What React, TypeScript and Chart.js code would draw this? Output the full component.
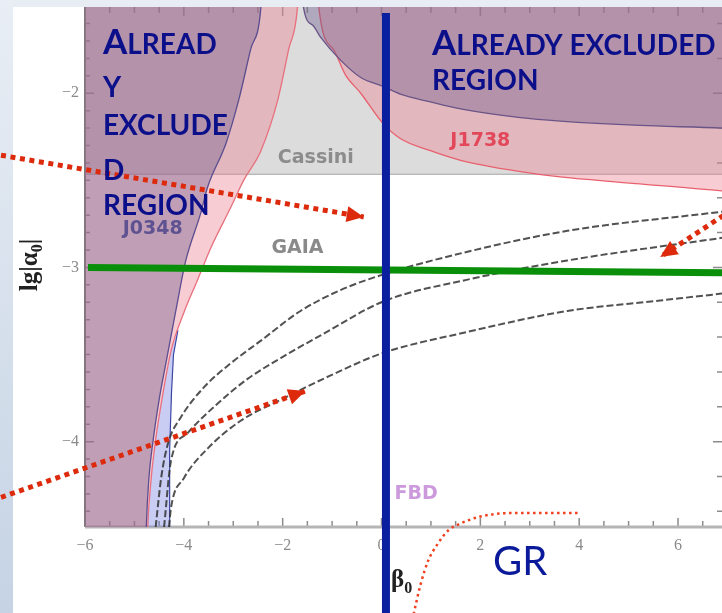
import React, { useEffect, useRef } from "react";
import { Chart, registerables } from "chart.js";

Chart.register(...registerables);

type P = [number, number];

// ---- axis ranges & ticks ----
const X_MIN = -6;
const X_MAX = 6.89;
const Y_MIN = -4.49;
const Y_MAX = -1.505;
const xTicks = [-6, -4, -2, 0, 2, 4, 6];
const yTicks = [-4, -3, -2];

// ---- constraint curves (beta0, lg|alpha0|) ----
const cassiniLimit = -2.465;
const cassiniLine: P[] = [[-7, cassiniLimit], [8, cassiniLimit]];

const j0348Left: P[] = [
  [-7, -4.8], [-4.79, -4.8], [-4.76, -4.49], [-4.71, -4.22], [-4.62, -3.99], [-4.5, -3.76],
  [-4.35, -3.53], [-4.17, -3.26], [-3.96, -2.96], [-3.66, -2.69], [-3.52, -2.54],
  [-3.15, -2.29], [-2.89, -2.04], [-2.65, -1.75], [-2.44, -1.506], [-2.4, -1.3],
];
const j1738Left: P[] = [
  [-7, -4.8], [-4.76, -4.8], [-4.73, -4.49], [-4.67, -4.24], [-4.57, -3.99], [-4.42, -3.72],
  [-4.26, -3.48], [-4.0, -3.26], [-3.72, -3.07], [-3.45, -2.885], [-3.05, -2.655],
  [-2.79, -2.5], [-2.44, -2.33], [-2.1, -2.04], [-1.88, -1.75], [-1.7, -1.506], [-1.66, -1.3],
];
const blueBoundary: P[] = [
  [-4.3, -4.6], [-4.295, -4.49], [-4.28, -4.05], [-4.25, -3.72], [-4.21, -3.5], [-4.12, -3.36],
];
const blueSliver: P[] = [
  [-4.3, -4.6], [-4.295, -4.49], [-4.28, -4.05], [-4.25, -3.72], [-4.21, -3.5], [-4.12, -3.36],
  [-4.26, -3.48], [-4.42, -3.72], [-4.57, -3.99], [-4.67, -4.24], [-4.73, -4.49], [-4.74, -4.6],
];
const j0348Right: P[] = [
  [-1.62, -1.3], [-1.58, -1.506], [-1.39, -1.61], [-1.23, -1.68], [-0.83, -1.81], [-0.42, -1.91],
  [0.02, -1.96], [0.38, -2.005], [0.99, -2.05], [1.6, -2.09], [2.81, -2.14], [3.62, -2.16],
  [5.23, -2.185], [6.89, -2.2], [7.5, -2.21],
];
const j1738Right: P[] = [
  [-1.3, -1.3], [-1.27, -1.506], [-0.97, -1.75], [-0.73, -1.895], [-0.42, -2.0], [0.02, -2.17],
  [0.38, -2.26], [0.99, -2.33], [1.6, -2.385], [2.81, -2.45], [3.62, -2.48], [5.23, -2.52],
  [6.89, -2.56], [7.5, -2.57],
];

// ---- GAIA projections (dashed) ----
const gaia1: P[] = [
  [-4.57, -4.49], [-4.46, -4.21], [-4.32, -4.01], [-4.06, -3.86], [-3.6, -3.69], [-3.05, -3.55],
  [-2.44, -3.42], [-1.64, -3.25], [-0.83, -3.13], [0.04, -3.04], [1.74, -2.91], [3.76, -2.79], [6.89, -2.68],
];
const gaia2: P[] = [
  [-4.4, -4.49], [-4.26, -4.11], [-3.92, -3.95], [-3.39, -3.8], [-2.71, -3.64], [-2.04, -3.52],
  [-1.23, -3.39], [0.04, -3.195], [1.74, -3.07], [3.76, -2.96], [6.89, -2.83],
];
const gaia3: P[] = [
  [-4.3, -4.49], [-4.26, -4.38], [-4.0, -4.21], [-3.52, -4.04], [-2.85, -3.88], [-2.04, -3.76],
  [-1.03, -3.62], [0.04, -3.49], [1.74, -3.37], [3.76, -3.25], [5.64, -3.19], [6.89, -3.15],
];

// ---- slide annotations ----
const verticalMarker: P[] = [[0.09, -1.54], [0.09, -4.99]];
const horizontalMarker: P[] = [[-5.94, -3.0], [6.89, -3.03]];
const arrowA: P[] = [[-7.7, -2.356], [-0.36, -2.71]];
const arrowB: P[] = [[7.25, -2.64], [5.64, -2.94]];
const arrowC: P[] = [[-7.7, -4.32], [-1.54, -3.71]];
const grCurve: P[] = [
  [0.65, -4.99], [0.79, -4.82], [0.95, -4.68], [1.13, -4.59], [1.35, -4.51], [1.6, -4.47],
  [2.0, -4.43], [2.61, -4.41], [3.31, -4.41], [4.02, -4.41],
];

const plotLabels = [
  { text: "Cassini", x: -1.33, y: -2.37, color: "#8c8c8c" },
  { text: "J1738", x: 2.0, y: -2.276, color: "#e2485a" },
  { text: "J0348", x: -4.63, y: -2.78, color: "#5f5290" },
  { text: "GAIA", x: -1.7, y: -2.89, color: "#8a8a8a" },
  { text: "FBD", x: 0.7, y: -4.3, color: "#cc99dd" },
];

const pts = (a: P[]) => a.map(([x, y]) => ({ x, y }));
const fmt = (v: number) => (v < 0 ? "\u2212" + Math.abs(v) : String(v));

const PINK = "rgba(235,130,145,0.4)";
const PURPLE = "rgba(110,90,140,0.4)";
const NAVY = "#0c0f8a";
const DASH_GRAY = "rgba(50,50,50,0.85)";

function drawCaps(ctx: CanvasRenderingContext2D, parts: [string, boolean][], x: number, y: number) {
  let cx = x;
  for (const [t, big] of parts) {
    ctx.font = `bold ${big ? 35 : 28}px Lato, sans-serif`;
    ctx.fillText(t, cx, y);
    cx += ctx.measureText(t).width;
  }
}

const overlayPlugin = {
  id: "overlay",
  beforeDraw(chart: any) {
    const { ctx, width, height } = chart;
    ctx.save();
    const g = ctx.createLinearGradient(0, 0, 0, height);
    g.addColorStop(0, "#e9eef5");
    g.addColorStop(1, "#c5d3e4");
    ctx.fillStyle = g;
    ctx.fillRect(0, 0, width, height);
    ctx.fillStyle = "#e8edf4";
    ctx.fillRect(13, 0, width - 13, 7);
    ctx.fillStyle = "#ffffff";
    ctx.fillRect(13, 7, width - 13, height - 7);
    ctx.restore();
  },
  beforeDatasetsDraw(chart: any) {
    const { ctx, chartArea: a, scales } = chart;
    const xs = scales.x, ys = scales.y;
    ctx.save();
    ctx.strokeStyle = "#8c8c8c";
    ctx.lineWidth = 1.5;
    ctx.beginPath();
    for (let v = -6; v <= X_MAX + 1e-9; v += 0.5) {
      const px = xs.getPixelForValue(v);
      const len = Math.abs(v - Math.round(v / 2) * 2) < 1e-9 ? 9 : 6;
      ctx.moveTo(px, a.bottom); ctx.lineTo(px, a.bottom - len);
      ctx.moveTo(px, a.top); ctx.lineTo(px, a.top + len);
    }
    for (let k = -44; k <= -16; k += 1) {
      const v = k / 10;
      const py = ys.getPixelForValue(v);
      const len = k % 10 === 0 ? 9 : 5;
      ctx.moveTo(a.left, py); ctx.lineTo(a.left + len, py);
      if (k % 2 === 0) { ctx.moveTo(a.right, py); ctx.lineTo(a.right - len, py); }
    }
    ctx.stroke();
    ctx.strokeStyle = "#7a7a7a";
    ctx.lineWidth = 2;
    ctx.beginPath();
    ctx.moveTo(a.left, a.top); ctx.lineTo(a.left, a.bottom);
    ctx.stroke();
    ctx.strokeStyle = "#b5b5b5";
    ctx.lineWidth = 3;
    ctx.beginPath();
    ctx.moveTo(a.left, a.bottom); ctx.lineTo(a.right, a.bottom);
    ctx.stroke();
    ctx.restore();
  },
  afterDatasetsDraw(chart: any) {
    const { ctx, scales } = chart;
    ctx.save();
    ctx.textAlign = "center";
    ctx.textBaseline = "middle";
    ctx.font = 'bold 19px "DejaVu Sans", sans-serif';
    for (const l of plotLabels) {
      ctx.fillStyle = l.color;
      ctx.fillText(l.text, scales.x.getPixelForValue(l.x), scales.y.getPixelForValue(l.y));
    }
    // arrow heads
    chart.data.datasets.forEach((ds: any, i: number) => {
      if (!ds.arrow) return;
      const pts = chart.getDatasetMeta(i).data;
      const p1 = pts[pts.length - 2], p2 = pts[pts.length - 1];
      const ang = Math.atan2(p2.y - p1.y, p2.x - p1.x);
      const L = 17, W = 8;
      ctx.fillStyle = ds.borderColor;
      ctx.beginPath();
      ctx.moveTo(p2.x, p2.y);
      ctx.lineTo(p2.x - L * Math.cos(ang) + W * Math.sin(ang), p2.y - L * Math.sin(ang) - W * Math.cos(ang));
      ctx.lineTo(p2.x - L * Math.cos(ang) - W * Math.sin(ang), p2.y - L * Math.sin(ang) + W * Math.cos(ang));
      ctx.closePath();
      ctx.fill();
    });
    ctx.restore();
  },
  afterDraw(chart: any) {
    const { ctx } = chart;
    ctx.save();
    ctx.fillStyle = NAVY;
    ctx.textAlign = "left";
    ctx.textBaseline = "alphabetic";
    drawCaps(ctx, [["A", true], ["LREAD", false]], 103, 54);
    drawCaps(ctx, [["Y", false]], 103, 97);
    drawCaps(ctx, [["EXCLUDE", false]], 103, 135);
    drawCaps(ctx, [["D", false]], 103, 180);
    drawCaps(ctx, [["REGION", false]], 103, 215);
    drawCaps(ctx, [["A", true], ["LREADY EXCLUDED", false]], 432, 55);
    drawCaps(ctx, [["REGION", false]], 432, 90);
    ctx.font = "40px Lato, sans-serif";
    ctx.fillStyle = "#0a1a9a";
    ctx.fillText("GR", 493, 575);

    // axis titles
    ctx.fillStyle = "#222222";
    const big = 'bold 25px "Liberation Serif", serif';
    const small = 'bold 16px "Liberation Serif", serif';
    ctx.save();
    ctx.translate(37, 265);
    ctx.rotate(-Math.PI / 2);
    ctx.font = big; const w1 = ctx.measureText("lg|\u03b1").width; const w3 = ctx.measureText("|").width;
    ctx.font = small; const w2 = ctx.measureText("0").width;
    let sx = -(w1 + w2 + w3) / 2;
    ctx.font = big; ctx.fillText("lg|\u03b1", sx, 0); sx += w1;
    ctx.font = small; ctx.fillText("0", sx, 5); sx += w2;
    ctx.font = big; ctx.fillText("|", sx, 0);
    ctx.restore();

    ctx.font = 'bold 25px "Liberation Serif", serif';
    ctx.fillText("\u03b2", 391, 587);
    const bw = ctx.measureText("\u03b2").width;
    ctx.font = 'bold 16px "Liberation Serif", serif';
    ctx.fillText("0", 391 + bw, 593);
    ctx.restore();
  },
};

export default function App() {
  const ref = useRef<HTMLCanvasElement>(null);
  useEffect(() => {
    const canvas = ref.current;
    if (!canvas) return;
    const base = { pointRadius: 0, pointHoverRadius: 0, pointHitRadius: 0, fill: false, tension: 0 };
    const gaiaStyle = { borderColor: DASH_GRAY, borderWidth: 2, borderDash: [7, 3], cubicInterpolationMode: "monotone", order: 10, clip: 0 };
    const chart = new Chart(canvas, {
      type: "line",
      data: {
        datasets: [
          { ...base, data: pts(cassiniLine), fill: "end", backgroundColor: "rgba(150,150,150,0.33)", borderColor: "#a5a5a5", borderWidth: 1.2, order: 20, clip: 0 },
          { ...base, data: pts(blueSliver), fill: "shape", backgroundColor: "rgba(100,110,220,0.35)", borderWidth: 0, order: 19, clip: 0 },
          { ...base, data: pts(blueBoundary), borderColor: "#33409a", borderWidth: 1.2, order: 19, clip: 0 },
          { ...base, data: pts(j1738Left), fill: "end", backgroundColor: PINK, borderColor: "#e8707e", borderWidth: 1.3, cubicInterpolationMode: "monotone", order: 18, clip: 0 },
          { ...base, data: pts(j1738Right), fill: "end", backgroundColor: PINK, borderColor: "#e8606e", borderWidth: 1.3, cubicInterpolationMode: "monotone", order: 17, clip: 0 },
          { ...base, data: pts(j0348Left), fill: "end", backgroundColor: PURPLE, borderColor: "#5b4d8f", borderWidth: 1.3, cubicInterpolationMode: "monotone", order: 16, clip: 0 },
          { ...base, data: pts(j0348Right), fill: "end", backgroundColor: PURPLE, borderColor: "#6a5487", borderWidth: 1.3, cubicInterpolationMode: "monotone", order: 15, clip: 0 },
          { ...base, ...gaiaStyle, data: pts(gaia1) },
          { ...base, ...gaiaStyle, data: pts(gaia2) },
          { ...base, ...gaiaStyle, data: pts(gaia3) },
          { ...base, data: pts(horizontalMarker), borderColor: "#0a8f0a", borderWidth: 7, order: 5, clip: false },
          { ...base, data: pts(verticalMarker), borderColor: "#0a1fa0", borderWidth: 8, order: 4, clip: false },
          { ...base, data: pts(arrowA), borderColor: "#dd2a0c", borderWidth: 5, borderDash: [5, 4.6], order: 3, clip: false, arrow: true },
          { ...base, data: pts(arrowB), borderColor: "#dd2a0c", borderWidth: 5, borderDash: [5, 4.6], order: 3, clip: false, arrow: true },
          { ...base, data: pts(arrowC), borderColor: "#dd2a0c", borderWidth: 5, borderDash: [5, 4.6], order: 3, clip: false, arrow: true },
          { ...base, data: pts(grCurve), borderColor: "#f0401e", borderWidth: 2.5, borderDash: [2.5, 3.5], cubicInterpolationMode: "monotone", order: 3, clip: false },
        ] as any,
      },
      options: {
        animation: false,
        responsive: false,
        events: [],
        layout: { padding: { left: 13, top: 7, right: 0, bottom: 0 } },
        plugins: { legend: { display: false }, tooltip: { enabled: false }, title: { display: false } },
        scales: {
          x: {
            type: "linear",
            min: X_MIN,
            max: X_MAX,
            grid: { display: false, drawTicks: false },
            border: { display: false },
            ticks: { color: "#8a8a8a", font: { family: '"Liberation Serif", serif', size: 16 }, padding: 9, autoSkip: false, maxRotation: 0, callback: (v: any) => fmt(Number(v)) },
            afterBuildTicks: (s: any) => { s.ticks = xTicks.map((value) => ({ value })); },
            afterFit: (s: any) => { s.height = 86; s.paddingLeft = 0; s.paddingRight = 0; },
          },
          y: {
            type: "linear",
            min: Y_MIN,
            max: Y_MAX,
            grid: { display: false, drawTicks: false },
            border: { display: false },
            ticks: { color: "#8a8a8a", font: { family: '"Liberation Serif", serif', size: 16 }, padding: 6, callback: (v: any) => fmt(Number(v)) },
            afterBuildTicks: (s: any) => { s.ticks = yTicks.map((value) => ({ value })); },
            afterFit: (s: any) => { s.width = 72; s.paddingTop = 0; s.paddingBottom = 0; },
          },
        },
      } as any,
      plugins: [overlayPlugin],
    });
    return () => chart.destroy();
  }, []);
  return (
    <div style={{ position: "fixed", left: 0, top: 0, width: 722, height: 613 }}>
      <canvas ref={ref} width={722} height={613} style={{ display: "block", width: 722, height: 613 }} />
    </div>
  );
}
